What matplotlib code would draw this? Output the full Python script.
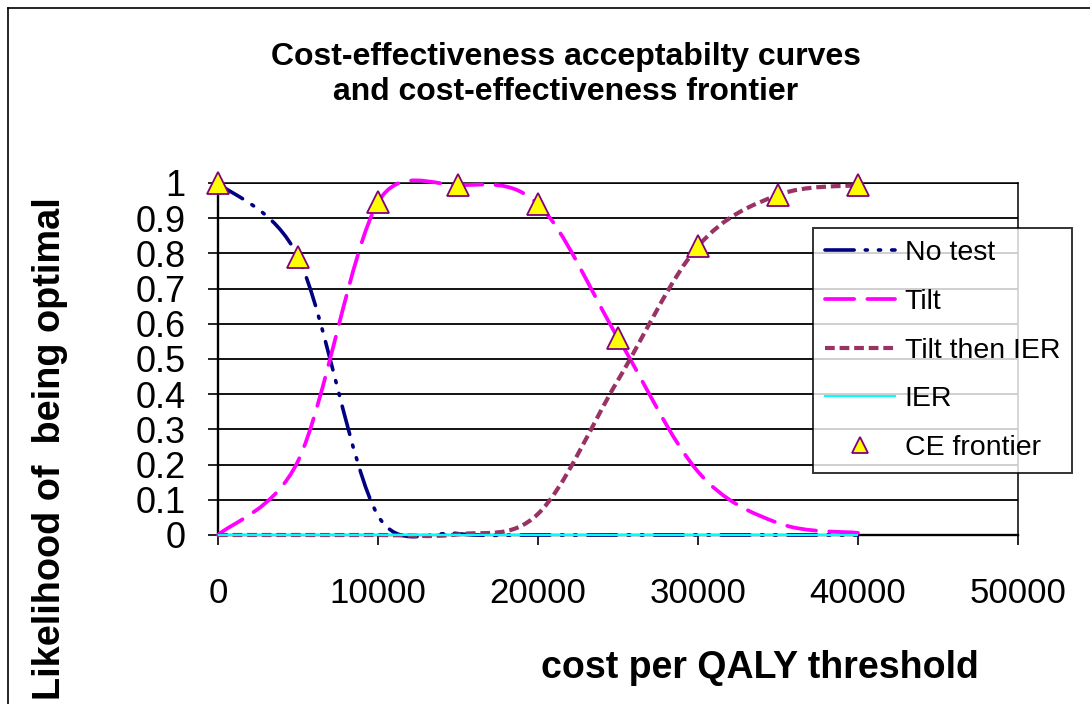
import numpy as np
import matplotlib
matplotlib.use("Agg")
import matplotlib.pyplot as plt
from matplotlib.path import Path
from matplotlib.patches import PathPatch
from matplotlib.lines import Line2D

plt.rcParams['font.family'] = ['Liberation Sans', 'DejaVu Sans']
plt.rcParams['lines.scale_dashes'] = False

# ---------------- data ----------------
thresholds = [0, 5000, 10000, 15000, 20000, 25000, 30000, 35000, 40000]
no_test = [1.0, 0.79, 0.055, 0.004, 0.0, 0.0, 0.0, 0.0, 0.0]
tilt = [0.0, 0.21, 0.945, 0.994, 0.94, 0.56, 0.18, 0.034, 0.006]
tilt_then_ier = [0.0, 0.0, 0.0, 0.002, 0.06, 0.44, 0.82, 0.966, 0.994]
ier = [0.0, 0.0, 0.0, 0.0, 0.0, 0.0, 0.0, 0.0, 0.0]
ce_frontier = [1.0, 0.79, 0.945, 0.994, 0.94, 0.56, 0.82, 0.966, 0.994]

series_names = ["No test", "Tilt", "Tilt then IER", "IER", "CE frontier"]
x_ticks = [0, 10000, 20000, 30000, 40000, 50000]
y_ticks = [0, 0.1, 0.2, 0.3, 0.4, 0.5, 0.6, 0.7, 0.8, 0.9, 1]
y_tick_labels = ["0", "0.1", "0.2", "0.3", "0.4", "0.5", "0.6", "0.7", "0.8", "0.9", "1"]
title_lines = ["Cost-effectiveness acceptabilty curves", "and cost-effectiveness frontier"]
x_label = "cost per QALY threshold"
y_label = "Likelihood of  being optimal"

W, H = 1090, 704
fig = plt.figure(figsize=(W / 100, H / 100), dpi=100)


def fx(px):
    return px / W


def fy(py):
    return 1 - py / H


ax = fig.add_axes([fx(218), fy(535), fx(1018) - fx(218), fy(183) - fy(535)])
ax.set_xlim(0, 50000)
ax.set_ylim(0, 1)

# grid and axes
for s in ax.spines.values():
    s.set_color('black')
    s.set_linewidth(1.1)
ax.spines['bottom'].set_linewidth(1.7)
ax.spines['left'].set_linewidth(1.7)
ax.set_yticks(y_ticks)
ax.set_yticklabels(y_tick_labels)
ax.set_xticks(x_ticks)
ax.set_xticklabels([str(v) for v in x_ticks])
ax.yaxis.grid(True, color='black', linewidth=1.3)
ax.set_axisbelow(True)
ax.tick_params(axis='y', direction='out', length=7.2, width=1.2, pad=16, labelsize=26)
ax.tick_params(axis='x', direction='out', length=7.2, width=1.2, pad=23, labelsize=25)


def smooth_path(xs, ys):
    pts = ax.transData.transform(np.column_stack([xs, ys]))
    n = len(pts)
    verts = [pts[0]]
    codes = [Path.MOVETO]
    for i in range(n - 1):
        p0 = pts[i - 1] if i > 0 else pts[i]
        p1 = pts[i]
        p2 = pts[i + 1]
        p3 = pts[i + 2] if i + 2 < n else pts[i + 1]
        seg = np.hypot(*(p2 - p1))
        t1 = (p2 - p0) / 6.0
        t2 = (p3 - p1) / 6.0
        for t in (t1, t2):
            L = np.hypot(*t)
            if L > seg / 2 and L > 0:
                t *= (seg / 2) / L
        verts += [p1 + t1, p2 - t2, p2]
        codes += [Path.CURVE4] * 3
    data = ax.transData.inverted().transform(np.array(verts))
    return Path(data, codes)


styles = [
    dict(color='#000080', lw=2.6, ls=(0, (21, 8, 1.5, 8, 1.5, 8)), capstyle='round'),
    dict(color='#FF00FF', lw=2.7, ls=(0, (21, 9.5)), capstyle='round'),
    dict(color='#993366', lw=3.0, ls=(0, (7, 3.5)), capstyle='butt'),
    dict(color='#00FFFF', lw=1.5, ls='-', capstyle='butt'),
]
series_vals = [no_test, tilt, tilt_then_ier, ier]
handles = []
for vals, st, name in zip(series_vals, styles, series_names[:4]):
    patch = PathPatch(smooth_path(thresholds, vals), fill=False, edgecolor=st['color'],
                      linewidth=st['lw'], linestyle=st['ls'], capstyle=st['capstyle'],
                      joinstyle='round', transform=ax.transData, clip_on=False, zorder=3)
    ax.add_patch(patch)
    h = Line2D([], [], color=st['color'], linewidth=st['lw'], linestyle=st['ls'],
               dash_capstyle=st['capstyle'], label=name)
    handles.append(h)

ce, = ax.plot(thresholds, ce_frontier, linestyle='none', marker='^', markersize=16,
              markerfacecolor='#FFFF00', markeredgecolor='#800080', markeredgewidth=1.3,
              clip_on=False, zorder=5, label=series_names[4])
handles.append(ce)

leg = fig.legend(handles=handles, loc='upper left', bbox_to_anchor=(fx(813), fy(228)),
                 borderaxespad=0, frameon=True, fancybox=False, shadow=False,
                 fontsize=20.5, handlelength=2.45, handletextpad=0.35, borderpad=0.42,
                 labelspacing=0.8, markerscale=0.75)
leg.get_frame().set_edgecolor('black')
leg.get_frame().set_linewidth(1.4)
leg.set_zorder(10)

# titles and labels
fig.text(fx(566), fy(65), title_lines[0], ha='center', va='baseline',
         fontsize=23, fontweight='bold')
fig.text(fx(566), fy(100), title_lines[1], ha='center', va='baseline',
         fontsize=23, fontweight='bold')
fig.text(fx(760), fy(678), x_label, ha='center', va='baseline',
         fontsize=27, fontweight='bold')
fig.text(fx(50), fy(449), y_label, ha='center', va='center', rotation=90,
         fontsize=27.3, fontweight='bold')

# outer chart border
fig.add_artist(Line2D([fx(8), fx(8)], [fy(8), 0], color='black', linewidth=1.2))
fig.add_artist(Line2D([fx(8), 1], [fy(8), fy(8)], color='black', linewidth=1.2))

fig.savefig('out.png', dpi=100)
